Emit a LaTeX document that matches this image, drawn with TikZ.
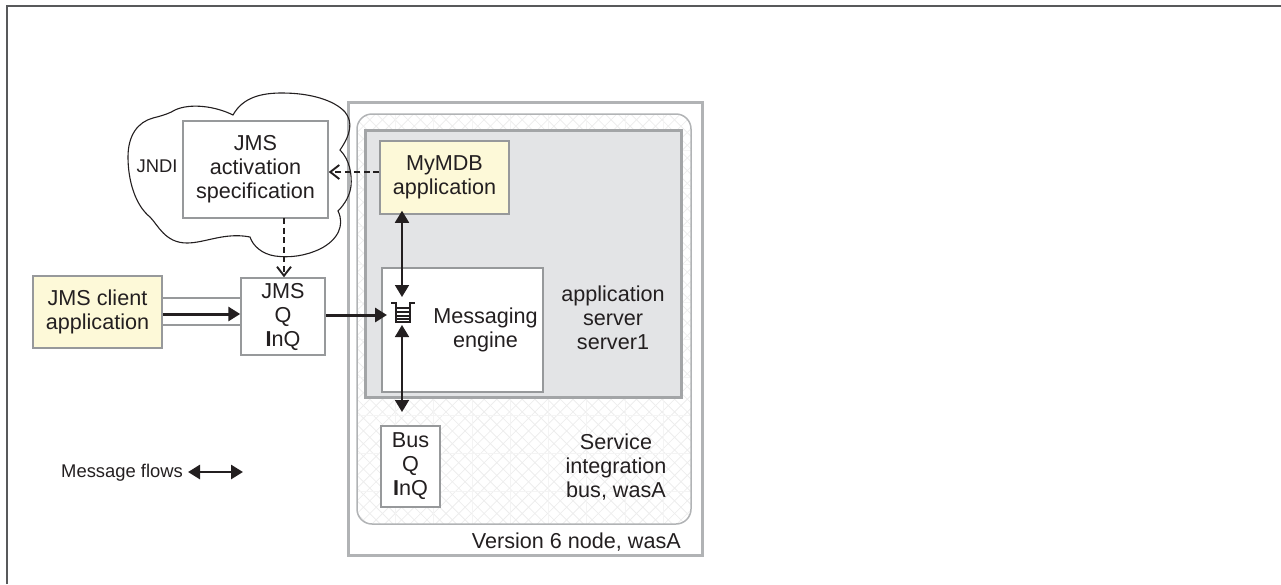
\documentclass[tikz,border=0pt]{standalone}
\usepackage{fontspec}
\setmainfont{Liberation Sans}
\usetikzlibrary{arrows.meta}
\definecolor{ink}{HTML}{231F20}
\definecolor{framegrey}{HTML}{58595B}
\definecolor{nodegrey}{HTML}{B1B3B5}
\definecolor{srvfill}{HTML}{E3E4E6}
\definecolor{srvline}{HTML}{A3A5A7}
\definecolor{appyellow}{HTML}{FDF9D8}
\definecolor{boxline}{HTML}{97999B}
\definecolor{hatch}{HTML}{EDEDED}
\definecolor{seam}{HTML}{F4F4F4}
\tikzset{
  x=1pt,y=-1pt,
  txt/.style={font=\fontsize{21.6}{24}\selectfont,text=ink,align=center,inner sep=0pt},
  smalltxt/.style={font=\fontsize{18.4}{22}\selectfont,text=ink,inner sep=0pt},
  whitebox/.style={txt,draw=boxline,line width=1.5pt,fill=white,minimum width=#1},
  appbox/.style={txt,draw=boxline,line width=1.5pt,fill=appyellow,minimum width=#1},
  flow/.style={draw=ink,line width=1.7pt,{Triangle[length=12pt,width=14pt]}-{Triangle[length=12pt,width=14pt]}},
  feed/.style={draw=ink,line width=3pt,-{Triangle[length=12pt,width=14pt]}},
  ref/.style={draw=ink,line width=1.1pt,dash pattern=on 6pt off 3.5pt,-{Straight Barb[length=9pt,width=14pt,line width=1.9pt]}},
  cloudline/.style={draw=ink,line width=1.1pt,line join=miter},
  rail/.style={draw=boxline,line width=1.5pt},
}
\begin{document}
\begin{tikzpicture}
\useasboundingbox (0,0) rectangle (1281,584);
% page frame
\draw[framegrey,line width=2pt] (6.5,584) -- (6.5,5.5) -- (1281,5.5);
% version 6 node
\node[draw=nodegrey,line width=3pt,minimum width=354pt,minimum height=453pt,inner sep=0pt] (v6) at (525,328.5) {};
% bus with hatch
\begin{scope}
  \clip[rounded corners=15pt] (357,114) rectangle (691,524);
  \foreach \k in {-60,...,40} {
    \draw[hatch,line width=.8pt] (350+12.7*\k,100) -- ++(440,440);
    \draw[hatch,line width=.8pt] (350+12.7*\k+700,100) -- ++(-440,440);
  }
  \foreach \k in {0,...,9} \draw[seam,line width=.8pt] (357+38.3*\k,110) -- ++(0,420);
  \foreach \k in {0,...,11} \draw[seam,line width=.8pt] (350,113+37.8*\k) -- ++(350,0);
\end{scope}
\node[draw=nodegrey,line width=1.5pt,rounded corners=15pt,minimum width=334pt,minimum height=410pt,inner sep=0pt] (bus) at (524,319) {};
% server
\node[draw=srvline,fill=srvfill,line width=3pt,minimum width=316pt,minimum height=267pt,inner sep=0pt] (srv) at (523,263.5) {};
% cloud
\draw[cloudline]
  (233,115) .. controls (243,97) and (262,93) .. (282,93)
  .. controls (310,93) and (334,100) .. (345,112)
  .. controls (353,122) and (351,134) .. (340,150)
  .. controls (350,160) and (352,175) .. (351,186)
  .. controls (350,195) and (345,204) .. (338,211)
  .. controls (345,225) and (338,240) .. (320,249)
  .. controls (305,256) and (290,258) .. (275,256)
  .. controls (262,254) and (253,246) .. (250,237)
  .. controls (225,232) and (205,243) .. (187,243)
  .. controls (165,243) and (158,225) .. (150,217)
  .. controls (135,205) and (128,180) .. (128,157)
  .. controls (128,135) and (138,122) .. (153,118)
  .. controls (165,115) and (170,113) .. (175,110)
  .. controls (190,103) and (215,106) .. (233,115) -- cycle;
% boxes
\node[appbox=129pt,minimum height=73pt] (mdb) at (444.5,177.5) {MyMDB\\application};
\node[whitebox=161pt,minimum height=124pt] (me) at (462.5,330) {};
\node[whitebox=59pt,minimum height=81pt] (busq) at (410.5,466.5) {Bus\\Q\\\textbf{I}nQ};
\node[whitebox=145pt,minimum height=97pt] (spec) at (255.5,169.5) {JMS\\activation\\specification};
\node[appbox=129pt,minimum height=72pt] (client) at (97.5,312) {JMS client\\application};
\node[whitebox=84pt,minimum height=77pt] (jmsq) at (283,316.5) {JMS\\Q\\\textbf{I}nQ};
% queue icon
\node[minimum width=24pt,minimum height=29pt,inner sep=0pt] (qicon) at (402.5,310.5) {};
\draw[ink,line width=1.1pt] (391,303) -- (396,303) -- (396,322) -- (410,322) -- (410,303) -- (415,303);
\foreach \yy in {308,312,316,319} \draw[ink,line width=1.1pt] (396,\yy) -- (410,\yy);
% free ends
\coordinate (qin) at (387,315);
\coordinate (qbus) at (402,412);
\coordinate (qtop) at (402,297);
\coordinate (qlow) at (402,325);
\coordinate (mfl) at (188,472);
\coordinate (mfr) at (243,472);
% connectors
\draw[rail] (client.east |- 0,298) -- (jmsq.west |- 0,298);
\draw[rail] (client.east |- 0,325) -- (jmsq.west |- 0,325);
\draw[feed] (client.east |- 0,314) -- (jmsq.west |- 0,314);
\draw[feed] (jmsq.east |- qin) -- (qin);
\draw[flow] (qtop |- mdb.south) ++(0,-4) -- (qtop);
\draw[flow] (qlow) -- (qbus);
\draw[flow,line width=2.8pt] (mfl) -- (mfr);
\draw[ref] (mdb.west) ++(0,-5.5) -- (spec.east |- 0,172);
\draw[ref] (284,218) -- (jmsq.north -| 284,0);
% labels
\node[txt] (melabel) at (485.5,330) {Messaging\\engine};
\node[txt] (srvlabel) at (613,318) {application\\server\\server1};
\node[txt] (buslabel) at (616,467) {Service\\integration\\bus, wasA};
\node[txt,anchor=base east] (v6label) at (681,548) {Version 6 node, wasA};
\node[smalltxt,anchor=base] (jndi) at (157,172) {JNDI};
\node[smalltxt,anchor=base west] (mf) at (61,477) {Message flows};
\end{tikzpicture}
\end{document}
